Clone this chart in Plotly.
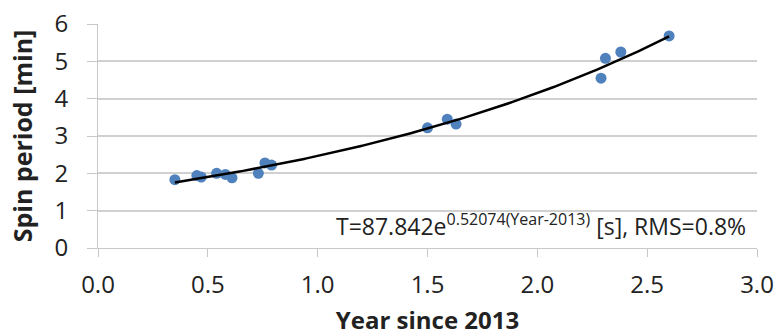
import numpy as np
import plotly.graph_objects as go

years = [0.35, 0.45, 0.47, 0.54, 0.58, 0.61, 0.73, 0.76, 0.79,
         1.50, 1.59, 1.63, 2.29, 2.31, 2.38, 2.60]
spin_min = [1.83, 1.94, 1.90, 2.00, 1.97, 1.88, 2.00, 2.28, 2.22,
            3.22, 3.45, 3.32, 4.55, 5.08, 5.25, 5.68]

fit_a_s = 87.842
fit_b = 0.52074
fit_x = np.linspace(0.35, 2.6, 200)
fit_y = fit_a_s * np.exp(fit_b * fit_x) / 60.0

x_ticks = [0.0, 0.5, 1.0, 1.5, 2.0, 2.5, 3.0]
y_ticks = [0, 1, 2, 3, 4, 5, 6]

font = "Open Sans"
txt = "#222"

fig = go.Figure()
fig.add_trace(go.Scatter(x=years, y=spin_min, mode="markers",
                         marker=dict(color="#4F81BD", size=11), showlegend=False))
fig.add_trace(go.Scatter(x=fit_x, y=fit_y, mode="lines",
                         line=dict(color="black", width=2.5), showlegend=False))

fig.update_layout(
    width=776, height=336,
    margin=dict(l=98, r=19, t=24, b=88),
    plot_bgcolor="white", paper_bgcolor="white",
    font=dict(family=font, color=txt),
    xaxis=dict(range=[0, 3], tickvals=x_ticks, ticktext=[f"{v:.1f}" for v in x_ticks],
               automargin=False,
               showgrid=False, zeroline=False, showline=True, linecolor="#c8c8c8",
               ticks="outside", ticklen=8, tickcolor="#c8c8c8", ticklabelstandoff=7,
               tickfont=dict(size=24, family=font, color=txt),
               title=dict(text="<b>Year since 2013</b>", font=dict(size=24, family=font, color=txt),
                          standoff=13)),
    yaxis=dict(range=[0, 6], tickvals=y_ticks, automargin=False,
               showgrid=True, gridcolor="#d0d0d0", gridwidth=1.5, zeroline=False,
               showline=True, linecolor="#c8c8c8",
               ticks="outside", ticklen=10, tickcolor="#c8c8c8", ticklabelstandoff=14,
               tickfont=dict(size=24, family=font, color=txt),
               title=dict(text="<b>Spin period [min]</b>", font=dict(size=25, family=font, color=txt),
                          standoff=14)),
)
fig.add_annotation(x=0.986, y=0.62, xref="paper", yref="y", xanchor="right", yanchor="middle",
                   text="T=87.842e<sup><span style='font-size:16px'>0.52074(Year-2013)</span></sup> [s], RMS=0.8%",
                   showarrow=False, font=dict(size=23, family=font, color=txt))

fig.write_html("out.html", config={"displayModeBar": False},
               post_script="document.body.style.margin='0';")
